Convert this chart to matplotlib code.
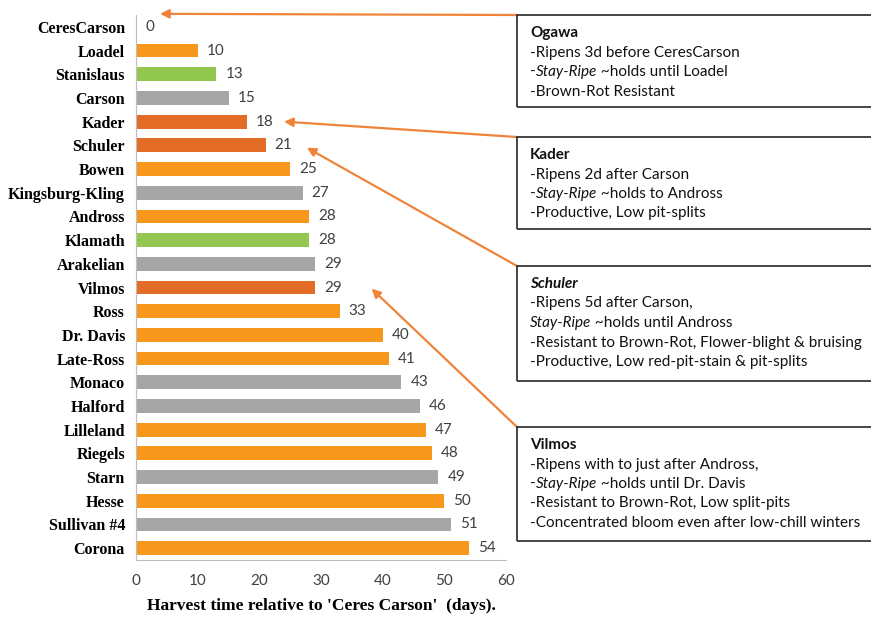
import matplotlib.pyplot as plt
from matplotlib.patches import Rectangle

varieties = ["CeresCarson", "Loadel", "Stanislaus", "Carson", "Kader", "Schuler", "Bowen",
             "Kingsburg-Kling", "Andross", "Klamath", "Arakelian", "Vilmos", "Ross",
             "Dr. Davis", "Late-Ross", "Monaco", "Halford", "Lilleland", "Riegels", "Starn",
             "Hesse", "Sullivan #4", "Corona"]
days = [0, 10, 13, 15, 18, 21, 25, 27, 28, 28, 29, 29, 33, 40, 41, 43, 46, 47, 48, 49, 50, 51, 54]
groups = ["orange", "orange", "green", "grey", "dark", "dark", "orange", "grey", "orange",
          "green", "grey", "dark", "orange", "orange", "orange", "grey", "grey", "orange",
          "orange", "grey", "orange", "grey", "orange"]

palette = {"orange": "#F7981D", "green": "#92C850", "grey": "#A6A6A6", "dark": "#E26B26"}
arrow_col = "#F0833A"

fig = plt.figure(figsize=(8.71, 6.17), dpi=100)
ax = fig.add_axes([136 / 871, 1 - 560 / 617, 370 / 871, 545 / 617])

ypos = list(range(len(varieties)))
ax.barh(ypos, days, height=0.58, color=[palette[g] for g in groups])
for y, d in zip(ypos, days):
    ax.text(d + 1.5, y, str(d), va="center", ha="left", fontsize=11,
            family="Lato", color="#404040")

ax.set_ylim(len(varieties) - 0.5, -0.5)
ax.set_xlim(0, 60)
ax.set_xticks(range(0, 61, 10))
ax.set_yticks(ypos)
ax.set_yticklabels(varieties, family="Liberation Serif", fontweight="bold", fontsize=11.5)
ax.tick_params(length=0)
ax.tick_params(axis="x", pad=10, labelsize=11, labelcolor="#404040")
for lab in ax.get_xticklabels():
    lab.set_family("Lato")
ax.tick_params(axis="y", pad=8)
for s in ["top", "right"]:
    ax.spines[s].set_visible(False)
for s in ["left", "bottom"]:
    ax.spines[s].set_color("#BFBFBF")
ax.set_xlabel("Harvest time relative to 'Ceres Carson'  (days).", family="Liberation Serif",
              fontweight="bold", fontsize=12.5, labelpad=7)

# annotation boxes: (top px, bottom px, title, title style, lines, arrow tip)
boxes = [
    (15, 107, "Ogawa", "normal",
     [[("-Ripens 3d before CeresCarson", "normal")],
      [("-", "normal"), ("Stay-Ripe", "italic"), (" ~holds until Loadel", "normal")],
      [("-Brown-Rot Resistant", "normal")]],
     (3.9, -0.55)),
    (137, 229, "Kader", "normal",
     [[("-Ripens 2d after Carson", "normal")],
      [("-", "normal"), ("Stay-Ripe", "italic"), (" ~holds to Andross", "normal")],
      [("-Productive, Low pit-splits", "normal")]],
     (24.0, 4.0)),
    (266, 381, "Schuler", "italic",
     [[("-Ripens 5d after Carson,", "normal")],
      [("Stay-Ripe", "italic"), (" ~holds until Andross", "normal")],
      [("-Resistant to Brown-Rot, Flower-blight & bruising", "normal")],
      [("-Productive, Low red-pit-stain & pit-splits", "normal")]],
     (27.7, 5.1)),
    (427, 541, "Vilmos", "normal",
     [[("-Ripens with to just after Andross,", "normal")],
      [("-", "normal"), ("Stay-Ripe", "italic"), (" ~holds until Dr. Davis", "normal")],
      [("-Resistant to Brown-Rot, Low split-pits", "normal")],
      [("-Concentrated bloom even after low-chill winters", "normal")]],
     (38.2, 11.05)),
]

W, H = 871, 617
x0 = 517
for top, bot, title, tstyle, lines, tip in boxes:
    fig.patches.append(Rectangle((x0 / W, 1 - bot / H), (880 - x0) / W, (bot - top) / H,
                                 transform=fig.transFigure, fill=False,
                                 edgecolor="#262626", linewidth=1.2))
    ax.annotate("", xy=tip, xycoords="data", xytext=(x0 / W, 1 - top / H),
                textcoords="figure fraction", annotation_clip=False,
                arrowprops=dict(arrowstyle="-|>", color=arrow_col, lw=1.6,
                                mutation_scale=13, shrinkA=0, shrinkB=0))
    ty = top + 18
    fig.text(530 / W, 1 - ty / H, title, fontsize=11, family="Lato", fontweight="bold",
             style=tstyle, va="center", color="#111111")
    for i, parts in enumerate(lines):
        ly = 1 - (ty + 19.5 * (i + 1)) / H
        prev = None
        for txt, st in parts:
            if prev is None:
                prev = ax.annotate(txt, xy=(530 / W, ly), xycoords="figure fraction",
                                   fontsize=11, family="Lato", style=st, va="center",
                                   color="#111111", annotation_clip=False)
            else:
                prev = ax.annotate(txt, xy=(1, 0), xycoords=prev, fontsize=11,
                                   family="Lato", style=st, va="bottom",
                                   color="#111111", annotation_clip=False)

fig.savefig("out.png", dpi=100)
